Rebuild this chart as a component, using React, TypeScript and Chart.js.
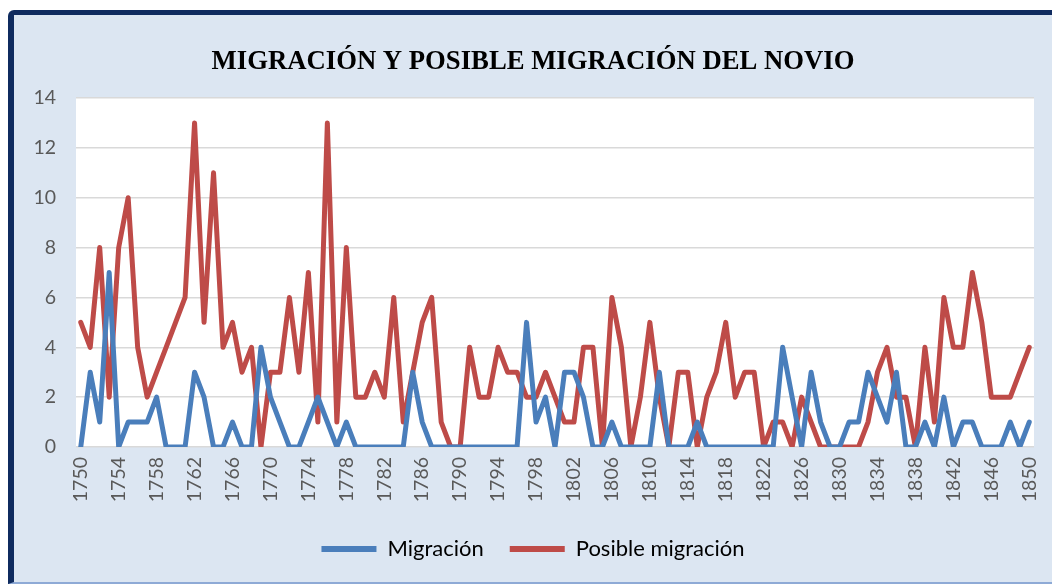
import React, { useEffect, useRef } from "react";
import { Chart, registerables } from "chart.js";

Chart.register(...registerables);

const years = [
  "1750","1751","1752","1753","1754","1755","1756","1757","1758","1759",
  "1760","1761","1762","1763","1764","1765","1766","1767","1768","1769",
  "1770","1771","1772","1773","1774","1775","1776","1777","1778","1779",
  "1780","1781","1782","1783","1784","1785","1786","1787","1788","1789",
  "1790","1791","1792","1793","1794","1795","1796","1797","1798","1799",
  "1800","1801","1802","1803","1804","1805","1806","1807","1808","1809",
  "1810","1811","1812","1813","1814","1815","1816","1817","1818","1819",
  "1820","1821","1822","1823","1824","1825","1826","1827","1828","1829",
  "1830","1831","1832","1833","1834","1835","1836","1837","1838","1839",
  "1840","1841","1842","1843","1844","1845","1846","1847","1848","1849",
  "1850",
];

const xTickLabels = [
  "1750","1754","1758","1762","1766","1770","1774","1778","1782","1786",
  "1790","1794","1798","1802","1806","1810","1814","1818","1822","1826",
  "1830","1834","1838","1842","1846","1850",
];

const migracion = [
  0, 3, 1, 7, 0, 1, 1, 1, 2, 0,
  0, 0, 3, 2, 0, 0, 1, 0, 0, 4,
  2, 1, 0, 0, 1, 2, 1, 0, 1, 0,
  0, 0, 0, 0, 0, 3, 1, 0, 0, 0,
  0, 0, 0, 0, 0, 0, 0, 5, 1, 2,
  0, 3, 3, 2, 0, 0, 1, 0, 0, 0,
  0, 3, 0, 0, 0, 1, 0, 0, 0, 0,
  0, 0, 0, 0, 4, 2, 0, 3, 1, 0,
  0, 1, 1, 3, 2, 1, 3, 0, 0, 1,
  0, 2, 0, 1, 1, 0, 0, 0, 1, 0,
  1,
];

const posibleMigracion = [
  5, 4, 8, 2, 8, 10, 4, 2, 3, 4,
  5, 6, 13, 5, 11, 4, 5, 3, 4, 0,
  3, 3, 6, 3, 7, 1, 13, 1, 8, 2,
  2, 3, 2, 6, 1, 3, 5, 6, 1, 0,
  0, 4, 2, 2, 4, 3, 3, 2, 2, 3,
  2, 1, 1, 4, 4, 0, 6, 4, 0, 2,
  5, 2, 0, 3, 3, 0, 2, 3, 5, 2,
  3, 3, 0, 1, 1, 0, 2, 1, 0, 0,
  0, 0, 0, 1, 3, 4, 2, 2, 0, 4,
  1, 6, 4, 4, 7, 5, 2, 2, 2, 3,
  4,
];

const yTicks = [0, 2, 4, 6, 8, 10, 12, 14];

const BLUE = "#4a7ebb";
const RED = "#be4b48";
const TICK_FONT = { family: "Lato, 'Noto Sans', sans-serif", size: 19.5 };

const plotBackground = {
  id: "plotBackground",
  beforeDraw(chart: any) {
    const { ctx, chartArea } = chart;
    if (!chartArea) return;
    ctx.save();
    ctx.fillStyle = "#ffffff";
    ctx.fillRect(chartArea.left, chartArea.top, chartArea.right - chartArea.left, chartArea.bottom - chartArea.top);
    ctx.restore();
  },
};

export default function App() {
  const canvasRef = useRef<HTMLCanvasElement | null>(null);

  useEffect(() => {
    if (!canvasRef.current) return;
    const chart = new Chart(canvasRef.current, {
      type: "line",
      data: {
        labels: years,
        datasets: [
          {
            label: "Migración",
            data: migracion,
            borderColor: BLUE,
            backgroundColor: BLUE,
            borderWidth: 5,
            pointRadius: 0,
            tension: 0,
            borderJoinStyle: "round",
            borderCapStyle: "round",
          },
          {
            label: "Posible migración",
            data: posibleMigracion,
            borderColor: RED,
            backgroundColor: RED,
            borderWidth: 5,
            pointRadius: 0,
            tension: 0,
            borderJoinStyle: "round",
            borderCapStyle: "round",
          },
        ],
      },
      options: {
        responsive: true,
        maintainAspectRatio: false,
        animation: false,
        layout: { padding: { left: 0, right: 0, top: 0, bottom: 12 } },
        plugins: {
          title: {
            display: true,
            text: "MIGRACIÓN Y POSIBLE MIGRACIÓN DEL NOVIO",
            color: "#000000",
            font: { family: "'Liberation Serif', 'Times New Roman', serif", size: 26.7, weight: "bold", lineHeight: 1.2 },
            padding: { top: 31, bottom: 20 },
          },
          legend: {
            display: true,
            position: "bottom",
            labels: {
              boxWidth: 55,
              boxHeight: 6,
              padding: 26,
              color: "#000000",
              font: { family: "Lato, 'Noto Sans', sans-serif", size: 22 },
              generateLabels: (c: any) =>
                (Chart.defaults.plugins.legend.labels as any).generateLabels(c).map((l: any) => ({ ...l, lineWidth: 0 })),
            },
          },
          tooltip: { enabled: false },
        },
        scales: {
          x: {
            type: "category",
            offset: true,
            grid: { display: false, drawTicks: false },
            border: { display: false },
            afterFit: (scale: any) => {
              scale.height = 65;
              scale.paddingLeft = 0;
              scale.paddingRight = 18;
            },
            ticks: {
              autoSkip: false,
              maxRotation: 90,
              minRotation: 90,
              padding: 10,
              color: "#595959",
              font: TICK_FONT,
              callback: (_v: any, index: number) => (xTickLabels.includes(years[index]) ? years[index] : ""),
            },
          },
          y: {
            min: 0,
            max: 14,
            grid: { color: "#d9d9d9", lineWidth: 1.5, drawTicks: false },
            border: { display: false },
            afterFit: (scale: any) => {
              scale.width = 62;
            },
            afterBuildTicks: (scale: any) => {
              scale.ticks = yTicks.map((v) => ({ value: v }));
            },
            ticks: {
              padding: 20,
              color: "#595959",
              font: TICK_FONT,
            },
          },
        },
      },
      plugins: [plotBackground],
    } as any);
    return () => chart.destroy();
  }, []);

  return (
    <div
      style={{
        position: "fixed",
        left: 8,
        top: 10,
        width: 1044,
        height: 574,
        boxSizing: "border-box",
        background: "#dce6f2",
        borderLeft: "6px solid #0f2b5f",
        borderTop: "5px solid #0f2b5f",
        borderBottom: "2px solid #8eaad6",
        borderTopLeftRadius: 6,
      }}
    >
      <div style={{ position: "absolute", left: 0, top: 0, right: 0, bottom: 0 }}>
        <canvas ref={canvasRef} />
      </div>
    </div>
  );
}
